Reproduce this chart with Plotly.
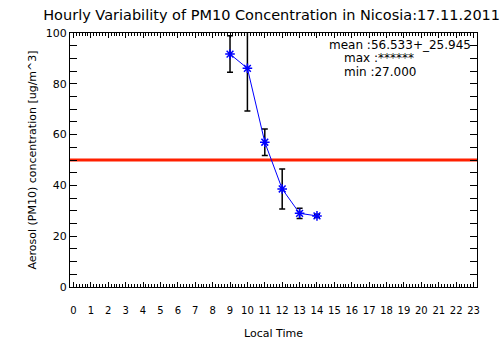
import plotly.graph_objects as go

hours = [9, 10, 11, 12, 13, 14]
pm10 = [91.7, 86.1, 57.0, 38.6, 29.0, 28.0]
pm10_err = [7.2, 16.8, 5.2, 7.9, 2.0, 0.6]
limit_value = 50
tick_hours = list(range(0, 24))
y_ticks = [0, 20, 40, 60, 80, 100]
stats_lines = ["mean :56.533+_25.945", "max :******", "min :27.000"]
title_text = "Hourly Variability of PM10 Concentration in Nicosia:17.11.2011"

FONT = "DejaVu Sans"

fig = go.Figure()
fig.add_trace(go.Scatter(
    x=[-0.2, 23.2], y=[limit_value, limit_value], mode="lines",
    line=dict(color="#ff2000", width=3), showlegend=False, hoverinfo="skip"))
fig.add_trace(go.Scatter(
    x=hours, y=pm10, mode="lines+markers",
    line=dict(color="#0000ff", width=1),
    marker=dict(symbol="asterisk-open", size=8, color="#0000ff",
                line=dict(color="#0000ff", width=1.5)),
    error_y=dict(type="data", array=pm10_err, visible=True,
                 color="black", thickness=1.5, width=3),
    showlegend=False))

fig.add_annotation(x=0.99, xref="paper", y=95.3, yref="y", text=stats_lines[0],
                   showarrow=False, xanchor="right", yanchor="middle",
                   font=dict(family=FONT, size=12, color="black"))
fig.add_annotation(x=0.668, xref="paper", y=90.0, yref="y", text=stats_lines[1],
                   showarrow=False, xanchor="left", yanchor="middle",
                   font=dict(family=FONT, size=12, color="black"))
fig.add_annotation(x=0.668, xref="paper", y=84.8, yref="y", text=stats_lines[2],
                   showarrow=False, xanchor="left", yanchor="middle",
                   font=dict(family=FONT, size=12, color="black"))

fig.update_layout(
    width=504, height=361,
    margin=dict(l=70, r=27, t=33, b=74),
    paper_bgcolor="white", plot_bgcolor="white",
    font=dict(family=FONT, size=11, color="black"),
    title=dict(text=title_text, x=0.539, xanchor="center", y=0.958, yanchor="middle",
               font=dict(family=FONT, size=14.5, color="black")),
    xaxis=dict(range=[-0.2, 23.2], tickmode="array", tickvals=tick_hours,
               ticktext=[str(h) for h in tick_hours],
               ticks="inside", ticklen=5, tickcolor="black", tickwidth=1,
               showline=True, linecolor="black", linewidth=1, mirror="ticks",
               showgrid=False, zeroline=False,
               tickfont=dict(family=FONT, size=10),
               ticklabelstandoff=14,
               minor=dict(dtick=1/6, tick0=0, ticks="inside", ticklen=3,
                          tickcolor="black", showgrid=False),
               title=dict(text="Local Time", font=dict(family=FONT, size=11),
                          standoff=14)),
    yaxis=dict(range=[0, 100], tickmode="array", tickvals=y_ticks,
               ticks="inside", ticklen=7, tickcolor="black", tickwidth=1,
               showline=True, linecolor="black", linewidth=1, mirror="ticks",
               showgrid=False, zeroline=False,
               tickfont=dict(family=FONT, size=11),
               minor=dict(dtick=5, ticks="inside", ticklen=7,
                          tickcolor="black", showgrid=False),
               title=dict(text="Aerosol (PM10) concentration [ug/m^3]",
                          font=dict(family=FONT, size=11), standoff=6)),
)

fig.write_html("out.html", config={"displayModeBar": False},
               post_script="document.body.style.margin='0';document.body.style.padding='0';")
